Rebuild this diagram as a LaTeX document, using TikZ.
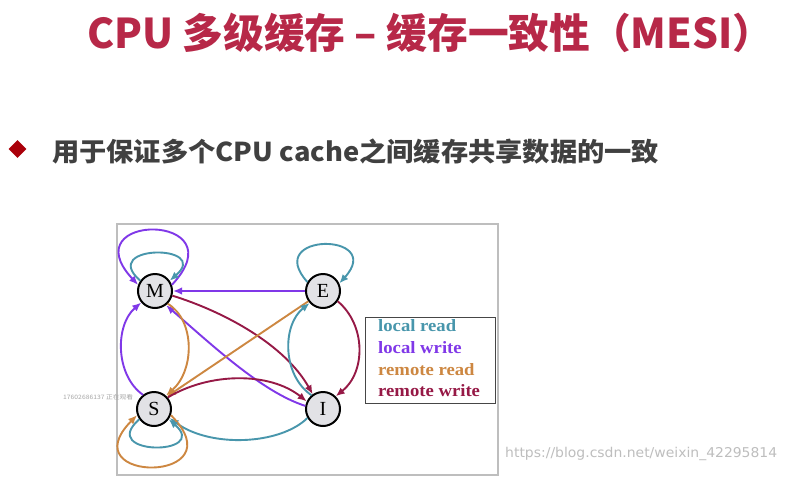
\documentclass[tikz,border=0pt]{standalone}
\usepackage{fontspec}
\usepackage{graphicx}
\usetikzlibrary{arrows.meta,shapes.geometric}
\newfontfamily\cjk{Noto Sans CJK SC}
\newfontfamily\tms{Liberation Serif}
\newfontfamily\wmfont{DejaVu Sans}
\definecolor{titlec}{RGB}{183,40,72}
\definecolor{subc}{RGB}{64,64,64}
\definecolor{diamc}{RGB}{170,0,10}
\definecolor{lrc}{RGB}{72,150,172}
\definecolor{lwc}{RGB}{128,56,232}
\definecolor{rrc}{RGB}{205,135,65}
\definecolor{rwc}{RGB}{150,25,70}
\definecolor{nodefill}{RGB}{226,226,230}
\definecolor{framec}{RGB}{190,190,190}
\definecolor{legc}{RGB}{70,70,70}
\definecolor{wmc}{RGB}{190,190,190}
\newcommand\legf{\tms\bfseries\fontsize{17.3}{17.3}\selectfont}
\begin{document}
\begin{tikzpicture}[x=1pt,y=-1pt,
  st/.style={circle, draw=black, line width=2pt, fill=nodefill, minimum size=34pt, inner sep=0pt, font=\tms\fontsize{20}{20}\selectfont},
  edge/.style={line width=1.9pt, -{Latex[length=9pt,width=7.5pt]}},
  lr/.style={edge, draw=lrc},
  lw/.style={edge, draw=lwc},
  rr/.style={edge, draw=rrc},
  rw/.style={edge, draw=rwc},
  legtext/.style={anchor=base west, inner sep=0pt, font=\legf},
  txt/.style={anchor=base west, inner sep=0pt}]
\useasboundingbox (0,0) rectangle (785,496);
\fill[white] (0,0) rectangle (785,496);
% title
\node[txt, text=titlec] (title) at (87,48) {\resizebox{686pt}{\height}{\cjk\bfseries\fontsize{41}{41}\selectfont CPU 多级缓存 – 缓存一致性（MESI）}};
% bullet
\node[diamond, fill=diamc, inner sep=0pt, minimum width=18pt, minimum height=18pt] (bullet) at (17.5,149) {};
\node[txt, text=subc] (sub) at (52,161.5) {\resizebox{607pt}{\height}{\cjk\bfseries\fontsize{26}{26}\selectfont 用于保证多个CPU cache之间缓存共享数据的一致}};
% frame
\draw[draw=framec, line width=1.3pt] (117,224) rectangle (498,475);
% nodes
\node[st] (M) at (155,291) {M};
\node[st] (E) at (323,291) {E};
\node[st] (S) at (154,409) {S};
\node[st] (I) at (323,409) {I};
% edges
\draw[lw] (M.20) .. controls (240,212) and (70,212) .. (M.160);
\draw[lr] (M.145) .. controls (98,244) and (212,244) .. (M.35);
\draw[lr] (E.150) .. controls (262,232) and (386,232) .. (E.25);
\draw[lw] (E) -- (M);
\draw[rw] (M.-15) .. controls (225,312) and (285,345) .. (I.125);
\draw[lw] (I.170) .. controls (262,392) and (212,345) .. (M.-52);
\draw[rr] (M.-45) .. controls (195,320) and (195,370) .. (S.48);
\draw[lw] (S.128) .. controls (115,375) and (115,325) .. (M.-140);
\draw[rr] (E.-145) -- (S.44);
\draw[lr] (I.130) .. controls (282,375) and (282,325) .. (E.-138);
\draw[rw] (E.-35) .. controls (366,325) and (366,372) .. (I.45);
\draw[rw] (S.40) .. controls (210,372) and (270,372) .. (I.155);
\draw[lr] (I.-150) .. controls (280,445) and (210,448) .. (S.-30);
\draw[rr] (S.-20) .. controls (239,484) and (69,484) .. (S.-160);
\draw[lr] (S.-145) .. controls (97,456) and (211,456) .. (S.-35);
% legend
\node[draw=legc, line width=1.3pt, minimum width=130pt, minimum height=86pt, anchor=north west, inner sep=0pt] (leg) at (365,317) {};
\node[legtext, text=lrc] (l1) at (378,331.7) {\scalebox{1.08}[1]{local read}};
\node[legtext, text=lwc] (l2) at (378,353.3) {\scalebox{1.08}[1]{local write}};
\node[legtext, text=rrc] (l3) at (378,375) {\scalebox{1.08}[1]{remote read}};
\node[legtext, text=rwc] (l4) at (378,396.7) {\scalebox{1.08}[1]{remote write}};
% watermarks
\node[txt, text=gray!70] (viewer) at (63,399) {\resizebox{70pt}{\height}{\cjk\fontsize{6}{6}\selectfont 17602686137 正在观看}};
\node[txt, text=wmc] (wm) at (505,457) {\resizebox{272pt}{\height}{\wmfont\fontsize{13.5}{13.5}\selectfont https://blog.csdn.net/weixin\_42295814}};
\end{tikzpicture}
\end{document}
